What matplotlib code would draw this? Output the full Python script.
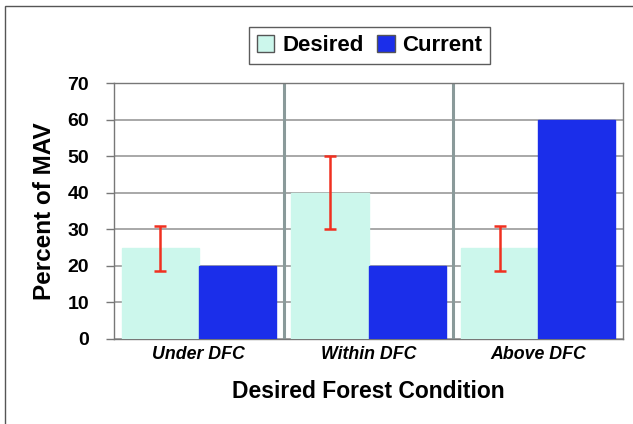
import matplotlib
matplotlib.use("Agg")
import matplotlib.pyplot as plt
import matplotlib.patches as mpatches
import numpy as np

plt.rcParams["font.family"] = ["Liberation Sans", "DejaVu Sans"]

categories = ["Under DFC", "Within DFC", "Above DFC"]
desired = [25, 40, 25]
current = [20, 20, 60]
err_low = [18.5, 30, 18.5]
err_high = [31, 50, 31]

fig = plt.figure(figsize=(6.33, 4.24), dpi=100)
ax = fig.add_axes([0.1801, 0.2005, 0.8041, 0.6037])

# outer frame like the original figure border
fig.patches.append(mpatches.Rectangle((0.008, -0.1), 1.2, 1.085, transform=fig.transFigure,
                                      fill=False, edgecolor="#555555", lw=1.0))

x = np.arange(len(categories))
w = 0.454
ax.bar(x - w / 2, desired, w, color="#CCF7EC", edgecolor="#CCF7EC", label="Desired", zorder=3)
ax.bar(x + w / 2, current, w, color="#1B2EEA", edgecolor="#1B2EEA", label="Current", zorder=3)

mid = np.array(desired, dtype=float)
yerr = [mid - np.array(err_low), np.array(err_high) - mid]
ax.errorbar(x - w / 2, mid, yerr=yerr, fmt="none", ecolor="#F03020",
            elinewidth=1.8, capsize=4.5, capthick=1.8, zorder=4)

ax.set_xlim(-0.5, 2.5)
ax.set_ylim(0, 70)
ax.set_yticks(range(0, 71, 10))
ax.yaxis.grid(True, color="#999999", lw=1.2, zorder=0)
for sep in [0.5, 1.5]:
    ax.axvline(sep, color="#8A9A9A", lw=2.2, zorder=2)

ax.set_xticks(x)
ax.set_xticklabels(categories, fontsize=12.8, fontweight="bold", style="italic")
ax.tick_params(axis="x", length=0, pad=5)
ax.tick_params(axis="y", labelsize=14, length=6, color="#777777", width=1.0, pad=12)
for t in ax.get_yticklabels():
    t.set_fontweight("bold")

for side in ["top", "right", "left", "bottom"]:
    ax.spines[side].set_color("#777777")
    ax.spines[side].set_linewidth(1.0)

ax.set_ylabel("Percent of MAV", fontsize=17.5, fontweight="bold", labelpad=8)
ax.set_xlabel("Desired Forest Condition", fontsize=16.5, fontweight="bold", labelpad=12)

leg = ax.legend(loc="upper center", bbox_to_anchor=(0.502, 1.219), ncol=2,
                fontsize=16, frameon=True, fancybox=False, edgecolor="#333333",
                handlelength=0.8, handleheight=0.8, handletextpad=0.35,
                columnspacing=0.6, borderpad=0.35, borderaxespad=0)
for txt in leg.get_texts():
    txt.set_fontweight("bold")
leg.legend_handles[0].set_edgecolor("#555555")
leg.legend_handles[1].set_edgecolor("#555555")

fig.savefig("out.png", dpi=100)
